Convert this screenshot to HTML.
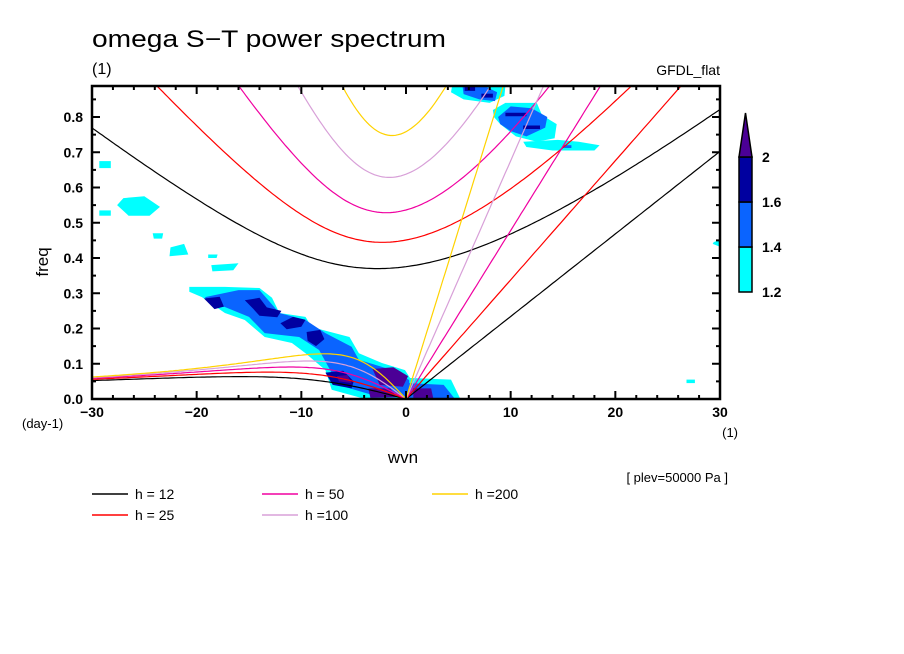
<!DOCTYPE html>
<html><head><meta charset="utf-8"><style>
html,body{margin:0;padding:0;background:#fff}
svg{display:block}
text{font-family:"Liberation Sans",sans-serif;fill:#000}
</style></head><body>
<svg id="chart" width="904" height="654" viewBox="0 0 904 654" xmlns="http://www.w3.org/2000/svg">
<rect width="904" height="654" fill="#fff"/>
<defs><clipPath id="plotclip"><rect x="92" y="86" width="628" height="313"/></clipPath></defs>
<text x="92" y="47" font-size="24" textLength="354" lengthAdjust="spacingAndGlyphs">omega S−T power spectrum</text>
<text x="92" y="74" font-size="16">(1)</text>
<text x="720" y="75" font-size="14" text-anchor="end">GFDL_flat</text>
<g id="contours" clip-path="url(#plotclip)"></g>
<g id="curves" clip-path="url(#plotclip)"></g>
<g id="axes"></g>
<text x="0" y="0" font-size="17" transform="translate(48,262) rotate(-90)" text-anchor="middle">freq</text>
<text x="22" y="428" font-size="13">(day-1)</text>
<text x="738" y="437" font-size="13" text-anchor="end">(1)</text>
<text x="403" y="463" font-size="17" text-anchor="middle">wvn</text>
<text x="728" y="482" font-size="13" text-anchor="end">[ plev=50000 Pa ]</text>
<g id="colorbar"></g>
<g id="legend"></g>
</svg>
<script>
// ---- data ----
const depths = [12, 25, 50, 100, 200];
const depthColors = ["#000000", "#ff0000", "#f000a0", "#d8a0d8", "#ffd200"];
const depthLabels = ["h = 12", "h = 25", "h = 50", "h =100", "h =200"];
const xTicks = [-30, -20, -10, 0, 10, 20, 30];
const xTickLabels = ["−30", "−20", "−10", "0", "10", "20", "30"];
const yTicks = [0, 0.1, 0.2, 0.3, 0.4, 0.5, 0.6, 0.7, 0.8];
const yTickLabels = ["0.0", "0.1", "0.2", "0.3", "0.4", "0.5", "0.6", "0.7", "0.8"];
const levelValues = [1.2, 1.4, 1.6, 2.0];
const levelColors = ["#00ffff", "#0a64ff", "#0000a0", "#4b0096"];
const levelLabels = ["1.2", "1.4", "1.6", "2"];
// contour blobs in (wavenumber, frequency); level index
const bandCyan = [[-20.7,0.318],[-17.3,0.318],[-14.0,0.315],[-12.8,0.287],[-12.1,0.244],[-9.6,0.233],[-9.0,0.204],[-5.4,0.176],[-4.5,0.130],[-2.3,0.102],[-0.1,0.082],[0.8,0.04],[1.3,0.003],[-3.9,0],[-7.1,0.026],[-7.7,0.082],[-9.6,0.130],[-10.9,0.159],[-13.5,0.176],[-15.4,0.224],[-17.3,0.244],[-19.5,0.289],[-20.7,0.304]];
const bandBlue = [[-19.2,0.289],[-16.0,0.309],[-14.0,0.309],[-12.1,0.244],[-9.6,0.224],[-7.7,0.187],[-5.2,0.148],[-4.5,0.111],[-1.3,0.082],[0.3,0.054],[0.4,0.006],[-2.6,0.006],[-5.8,0.034],[-7.1,0.074],[-8.3,0.139],[-10.2,0.176],[-13.5,0.187],[-15.0,0.233],[-17.3,0.261],[-18.8,0.272]];
const originCyan = [[0.2,0.06],[4.3,0.055],[5.2,0],[0,0]];
const originBlue = [[0.3,0.045],[3.6,0.04],[4.6,0.003],[0.3,0]];
const coreNavy1 = [[-19.3,0.285],[-17.8,0.29],[-17.4,0.262],[-18.3,0.255]];
const coreNavy2 = [[-15.4,0.28],[-14,0.287],[-13.3,0.26],[-11.9,0.25],[-12.3,0.232],[-14,0.236],[-14.6,0.256]];
const coreNavy3 = [[-12,0.215],[-10.8,0.233],[-9.6,0.225],[-10,0.205],[-11.4,0.198]];
const coreNavy4 = [[-9.5,0.19],[-8.2,0.196],[-7.8,0.17],[-8.6,0.15],[-9.4,0.165]];
const coreNavy5 = [[-7.7,0.075],[-6,0.08],[-5,0.05],[-5.2,0.03],[-7,0.04]];
const corePurple1 = [[-6.6,0.065],[-5.6,0.068],[-5.2,0.045],[-6.4,0.05]];
const corePurple2 = [[-3.2,0.085],[-1.2,0.09],[0.2,0.065],[-0.3,0.035],[-2.5,0.04]];
const corePurple3 = [[-3.6,0.03],[-1.5,0.03],[-0.9,0.005],[-3.4,0.003]];
const corePurple4 = [[0.7,0.03],[2.4,0.03],[2.6,0.003],[0.7,0.003]];
const urCyanA = [[4.4,0.888],[9.5,0.888],[9.4,0.86],[8,0.84],[5.5,0.85],[4.3,0.87]];
const urBlueA = [[5.4,0.888],[7.5,0.888],[8.7,0.87],[8.5,0.845],[7,0.85],[5.5,0.865]];
const urNavyA1 = [[5.6,0.885],[6.6,0.885],[6.6,0.874],[5.6,0.874]];
const urNavyA2 = [[7.2,0.866],[8.3,0.866],[8.3,0.855],[7.2,0.855]];
const urCyanB = [[8.3,0.82],[9.5,0.84],[12.5,0.84],[13,0.805],[14.4,0.78],[14.2,0.74],[12.5,0.73],[10.5,0.745],[9,0.78],[8.4,0.8]];
const urBlueB = [[8.8,0.8],[10,0.83],[12,0.825],[13.5,0.8],[13.3,0.77],[11.5,0.745],[10,0.76],[9,0.78]];
const urNavyB1 = [[9.5,0.812],[11.5,0.812],[11.5,0.802],[9.5,0.802]];
const urNavyB2 = [[11.2,0.776],[12.8,0.776],[12.8,0.766],[11.2,0.766]];
const urCyanC = [[11.2,0.73],[14.5,0.735],[16.5,0.73],[18.5,0.72],[18,0.705],[14,0.705],[11.5,0.715]];
const urBlueC = [[15.0,0.72],[15.8,0.72],[15.8,0.712],[15.0,0.712]];
const spotA = [[-27,0.57],[-25,0.575],[-23.5,0.545],[-24.5,0.52],[-26.5,0.52],[-27.6,0.55]];
const spotB = [[-29.3,0.535],[-28.2,0.535],[-28.2,0.52],[-29.3,0.52]];
const spotC = [[-22.5,0.43],[-21.2,0.44],[-20.8,0.41],[-22.6,0.405]];
const spotD = [[-29.3,0.675],[-28.2,0.675],[-28.2,0.655],[-29.3,0.655]];
const spotE = [[-18.6,0.38],[-16,0.385],[-16.5,0.365],[-18.5,0.362]];
const spotF = [[-24.2,0.47],[-23.2,0.47],[-23.3,0.455],[-24.1,0.455]];
const spotG = [[29.4,0.445],[30,0.452],[30,0.432],[29.3,0.44]];
const spotH = [[26.8,0.055],[27.6,0.055],[27.6,0.045],[26.8,0.045]];
const spotI = [[-18.9,0.41],[-18.0,0.41],[-18.1,0.4],[-18.9,0.4]];
const blobs = [
 [0,bandCyan],[0,originCyan],[0,urCyanA],[0,urCyanB],[0,urCyanC],[0,spotA],[0,spotB],[0,spotC],[0,spotD],[0,spotE],[0,spotF],[0,spotG],[0,spotH],[0,spotI],
 [1,bandBlue],[1,originBlue],[1,urBlueA],[1,urBlueB],[1,urBlueC],
 [2,coreNavy1],[2,coreNavy2],[2,coreNavy3],[2,coreNavy4],[2,coreNavy5],[2,urNavyA1],[2,urNavyA2],[2,urNavyB1],[2,urNavyB2],
 [3,corePurple1],[3,corePurple2],[3,corePurple3],[3,corePurple4]
];
// ---- axes ----
const X0 = 92, X1 = 720, Y0 = 399, YTOP = 86;
const xMin = -30, xMax = 30, fPerPx = 0.1 / 35.25;
function sx(k){ return X0 + (k - xMin) / (xMax - xMin) * (X1 - X0); }
function sy(f){ return Y0 - f / fPerPx; }
const NS = "http://www.w3.org/2000/svg";
function mk(tag, attrs, parent){ const e = document.createElementNS(NS, tag); for (const a in attrs) e.setAttribute(a, attrs[a]); parent.appendChild(e); return e; }

const gC = document.getElementById("contours");
blobs.forEach(function(b){
  const p = mk("polygon", {points: b[1].map(q => sx(q[0]).toFixed(1) + "," + sy(q[1]).toFixed(1)).join(" "), fill: levelColors[b[0]]}, gC);
  
  
});

// dispersion curves
const g = 9.81, a = 6.371e6, Om = 7.292e-5, beta = 2 * Om / a;
const toCpd = 86400 / (2 * Math.PI);
function solve(kh, w){ for (let i = 0; i < 60; i++){ const f = w*w*w - (kh*kh + 3) * w - kh; const d = 3*w*w - (kh*kh + 3); w -= f / d; } return w; }
const gK = document.getElementById("curves");
depths.forEach(function(h, i){
  const c = Math.sqrt(g * h), scaleW = Math.sqrt(beta * c), scaleK = Math.sqrt(c / beta) / a;
  let ig = [], er = [], kel = [];
  for (let s = -30; s <= 30.001; s += 0.25){
    const kh = s * scaleK;
    const wig = solve(kh, Math.sqrt(kh*kh + 3) + 1);
    ig.push([s, wig * scaleW * toCpd]);
    if (s <= 0){ const wer = solve(kh, -kh / (kh*kh + 3)); er.push([s, wer * scaleW * toCpd]); }
    if (s >= 0){ kel.push([s, c * s / a * toCpd]); }
  }
  [ig, er, kel].forEach(function(arr, j){
    const pl = mk("polyline", {points: arr.map(q => sx(q[0]).toFixed(1) + "," + sy(q[1]).toFixed(1)).join(" "), fill: "none", stroke: depthColors[i], "stroke-width": 1.2}, gK);
    
    
  });
});

// axes frame and ticks
const gA = document.getElementById("axes");
const frame = mk("rect", {x: X0, y: YTOP, width: X1 - X0, height: Y0 - YTOP, fill: "none", stroke: "#000", "stroke-width": 2.5}, gA);


for (let k = -30; k <= 30; k += 2){
  const L = (k % 10 === 0) ? 8 : 4;
  mk("line", {x1: sx(k), y1: Y0, x2: sx(k), y2: Y0 - L, stroke: "#000", "stroke-width": 2}, gA);
  mk("line", {x1: sx(k), y1: YTOP, x2: sx(k), y2: YTOP + L, stroke: "#000", "stroke-width": 2}, gA);
}
for (let n = 0; n <= 17; n++){
  const f = n * 0.05, L = (n % 2 === 0) ? 8 : 4;
  mk("line", {x1: X0, y1: sy(f), x2: X0 + L, y2: sy(f), stroke: "#000", "stroke-width": 2}, gA);
  mk("line", {x1: X1, y1: sy(f), x2: X1 - L, y2: sy(f), stroke: "#000", "stroke-width": 2}, gA);
}
xTicks.forEach(function(k, i){
  const t = mk("text", {x: sx(k), y: 417, "font-size": 14, "text-anchor": "middle", "font-weight": "bold"}, gA);
  t.textContent = xTickLabels[i];
  
  
});
yTicks.forEach(function(f, i){
  const t = mk("text", {x: 83, y: sy(f) + 5, "font-size": 14, "text-anchor": "end", "font-weight": "bold"}, gA);
  t.textContent = yTickLabels[i];
  
  
});

// colorbar
const gB = document.getElementById("colorbar");
const cbX = 739, cbW = 13, cbBottom = 292, cbStep = 45;
for (let i = 0; i < 3; i++){
  const r = mk("rect", {x: cbX, y: cbBottom - (i + 1) * cbStep, width: cbW, height: cbStep, fill: levelColors[i], stroke: "#000", "stroke-width": 1.5}, gB);
  
  
}
const tri = mk("polygon", {points: cbX + "," + (cbBottom - 3 * cbStep) + " " + (cbX + cbW) + "," + (cbBottom - 3 * cbStep) + " " + (cbX + cbW / 2) + "," + 113, fill: levelColors[3], stroke: "#000", "stroke-width": 1.5}, gB);


levelLabels.forEach(function(l, i){
  const t = mk("text", {x: 762, y: cbBottom - i * cbStep + 5, "font-size": 14, "font-weight": "bold"}, gB);
  t.textContent = l;
  
  
});

// legend
const gL = document.getElementById("legend");
const legX = [92, 262, 432, 92, 262], legY = [494, 494, 494, 515, 515];
const order = [0, 2, 4, 1, 3];
order.forEach(function(di, j){
  const e = mk("g", {}, gL);
  
  
  mk("line", {x1: legX[j], y1: legY[j], x2: legX[j] + 36, y2: legY[j], stroke: depthColors[di], "stroke-width": 1.5}, e);
  const t = mk("text", {x: legX[j] + 43, y: legY[j] + 5, "font-size": 14}, e);
  t.textContent = depthLabels[di];
});
</script>
</body></html>
